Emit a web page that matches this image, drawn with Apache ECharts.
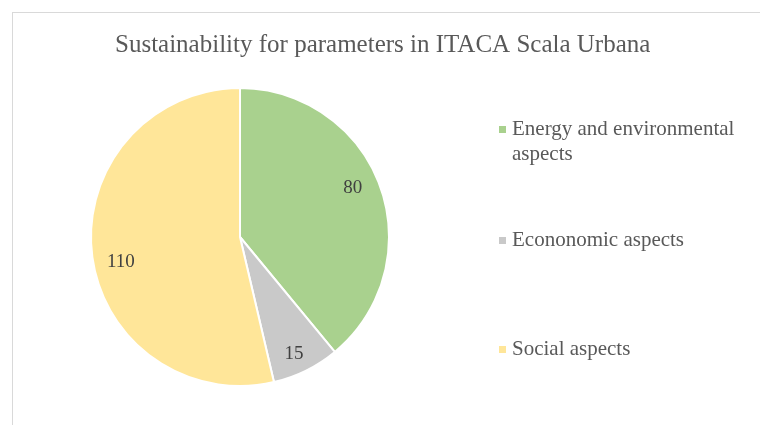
<!DOCTYPE html>
<html>
<head>
<meta charset="utf-8">
<script src="https://cdn.jsdelivr.net/npm/echarts@6/dist/echarts.min.js"></script>
<style>
  html, body { margin: 0; padding: 0; background: #ffffff; }
  #frame { position: absolute; left: 12px; top: 12px; width: 760px; height: 425px;
           border-top: 1px solid #d9d9d9; border-left: 1px solid #d9d9d9; }
  #chart { position: absolute; left: 0; top: 0; width: 760px; height: 425px; }
</style>
</head>
<body>
<div id="frame"></div>
<div id="chart"></div>
<script>
const titleText = 'Sustainability for parameters in ITACA Scala Urbana';
const categories = ['Energy and environmental aspects', 'Econonomic aspects', 'Social aspects'];
const values = [80, 15, 110];
const colors = ['#a9d18e', '#c9c9c9', '#ffe699'];

const FONT = '"Liberation Serif", "DejaVu Serif", serif';
const pieData = categories.map((c, i) => ({ name: c, value: values[i], itemStyle: { color: colors[i] } }));
const labelData = categories.map((c, i) => ({ name: c, value: values[i] }));
// small visual nudges for the value labels (Excel "best fit" placement)
const labelNudge = [[-4, -7], [-1, 6], [4, 11]];

const chart = echarts.init(document.getElementById('chart'));
chart.setOption({
  animation: false,
  title: {
    text: titleText, left: 110, top: 28,
    textStyle: { fontFamily: FONT, fontSize: 25, fontWeight: 'normal', color: '#595959' }
  },
  legend: [0, 1, 2].map(i => ({
    data: [categories[i]],
    orient: 'vertical',
    left: 492,
    top: [87, 223, 332][i],
    icon: 'rect', itemWidth: 9, itemHeight: 9,
    selectedMode: false,
    formatter: i === 0 ? (name => '\n' + name) : '{name}',
    textStyle: {
      fontFamily: FONT, fontSize: 21, color: '#595959', lineHeight: 25,
      width: 240, overflow: 'break'
    }
  })),
  series: [
    {
      type: 'pie', center: [240, 237], radius: [0, 149], startAngle: 90, clockwise: true,
      silent: true, label: { show: false }, labelLine: { show: false },
      itemStyle: { borderColor: '#ffffff', borderWidth: 2 },
      data: pieData
    },
    {
      type: 'pie', center: [240, 237], radius: [92, 150], startAngle: 90, clockwise: true,
      silent: true, itemStyle: { color: 'rgba(0,0,0,0)' },
      label: { show: true, position: 'inside', fontFamily: FONT, fontSize: 19, color: '#404040', formatter: '{c}' },
      labelLine: { show: false },
      labelLayout: function (params) {
        const n = labelNudge[params.dataIndex];
        return { dx: n[0], dy: n[1] };
      },
      data: labelData
    }
  ]
});
</script>
</body>
</html>
